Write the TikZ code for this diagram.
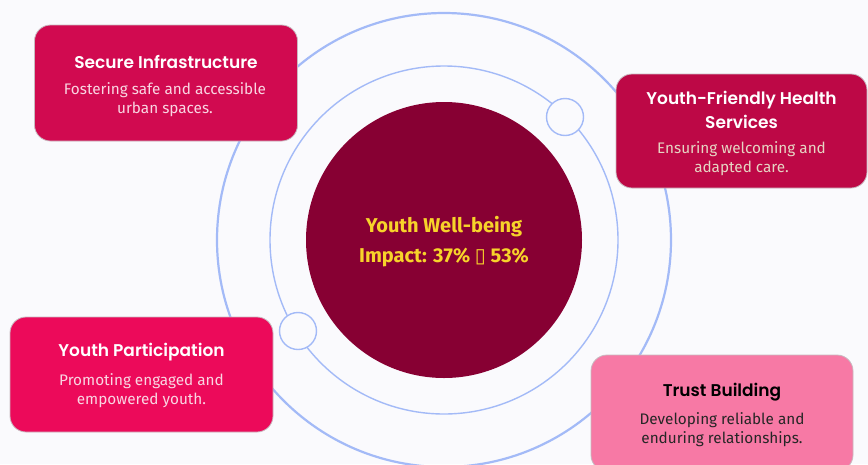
\documentclass[tikz,border=0pt]{standalone}
\usepackage{fontspec}
\newfontfamily\titlefont{Poppins SemiBold}
\newfontfamily\bodyfont{Fira Sans}
\newfontfamily\symfont{DejaVu Sans}
\definecolor{bgc}{HTML}{FAFAFD}
\definecolor{ringc}{HTML}{A3BAF7}
\definecolor{corec}{HTML}{870033}
\definecolor{goldc}{HTML}{F7D32A}
\definecolor{boxa}{HTML}{D10A50}
\definecolor{boxb}{HTML}{BD0846}
\definecolor{boxc}{HTML}{EC0A5A}
\definecolor{boxd}{HTML}{F779A5}
\definecolor{pinktxt}{HTML}{F9D6E2}
\definecolor{beigetxt}{HTML}{E6D5C3}
\definecolor{edgec}{HTML}{C9B9C0}
\tikzset{
  card/.style={draw=edgec, line width=0.8pt, rounded corners=16pt, inner sep=0pt},
  cardtitle/.style={font=\titlefont\fontsize{17}{24}\selectfont, align=center, inner sep=0pt},
  carddesc/.style={font=\bodyfont\fontsize{15.3}{19}\selectfont, align=center, inner sep=0pt},
  ring/.style={draw=ringc, fill=none},
  knob/.style={circle, draw=ringc, line width=1.4pt, fill=bgc, inner sep=0pt, minimum size=37pt}
}
\begin{document}
\begin{tikzpicture}[x=1pt, y=-1pt]
\useasboundingbox (0,0) rectangle (868,464);
\clip (0,0) rectangle (868,464);
\fill[bgc] (0,0) rectangle (868,464);
\coordinate (ctr) at (444,240);
% rings
\draw[ring, line width=2.2pt] (ctr) circle[radius=227];
\draw[ring, line width=1.4pt] (ctr) circle[radius=174];
% core
\node[circle, fill=corec, minimum size=276pt, inner sep=0pt] (core) at (ctr) {};
\node[font=\bodyfont\bfseries\fontsize{20}{30}\selectfont, text=goldc, align=center] (coretext) at (444,242)
  {Youth Well-being\\Impact: 37\% {\symfont ▯} 53\%};
% knobs on inner ring
\node[knob] (knobA) at (565,117) {};
\node[knob] (knobB) at (298,331) {};
% cards
\node[card, fill=boxa, minimum width=263pt, minimum height=116pt] (infra) at (166,83) {};
\node[cardtitle, text=white] (infraT) at (166,62) {Secure Infrastructure};
\node[carddesc, text=pinktxt] (infraD) at (165,100) {Fostering safe and accessible\\urban spaces.};

\node[card, fill=boxb, minimum width=251pt, minimum height=114pt] (health) at (741.5,131) {};
\node[cardtitle, text=white] (healthT) at (741.5,109.5) {Youth-Friendly Health\\Services};
\node[carddesc, text=beigetxt] (healthD) at (741.5,158.5) {Ensuring welcoming and\\adapted care.};

\node[card, fill=boxc, minimum width=263pt, minimum height=115pt] (part) at (141.5,374.5) {};
\node[cardtitle, text=white] (partT) at (141.5,352) {Youth Participation};
\node[carddesc, text=pinktxt] (partD) at (141.5,391) {Promoting engaged and\\empowered youth.};

\node[card, fill=boxd, minimum width=262pt, minimum height=116pt] (trust) at (722,413) {};
\node[cardtitle, text=black] (trustT) at (722,392) {Trust Building};
\node[carddesc, text=black!85] (trustD) at (722,430) {Developing reliable and\\enduring relationships.};
\end{tikzpicture}
\end{document}
